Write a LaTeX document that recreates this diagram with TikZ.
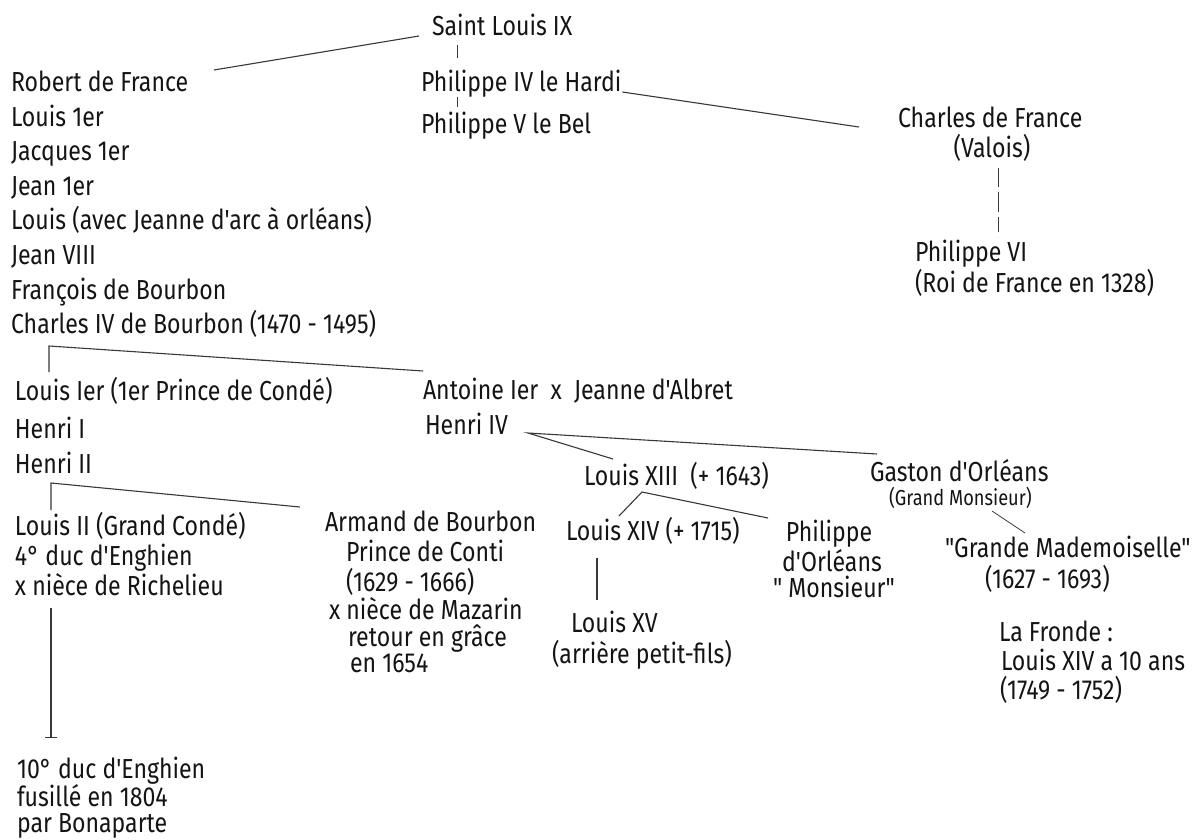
\documentclass[tikz,border=0pt]{standalone}
\usepackage{fontspec}
\newfontfamily\ff{Fira Sans}[FakeStretch=0.84]
\usetikzlibrary{arrows.meta,calc}
\begin{document}
\begin{tikzpicture}[x=1pt,y=-1pt,
  txt/.style={font=\ff\fontsize{27.5}{30}\selectfont, text=black!92, inner sep=0pt, outer sep=0pt, anchor=base west},
  txtc/.style={txt, anchor=base},
  small/.style={font=\ff\fontsize{21.7}{24}\selectfont, text=black!92, inner sep=0pt, outer sep=0pt, anchor=base west},
  link/.style={draw=black!78, line width=1.1pt},
  dashlink/.style={link, line width=0.9pt, dash pattern=on 19pt off 5pt on 20pt off 5pt on 15pt off 5pt}]
\useasboundingbox[fill=white] (0,0) rectangle (1195,839);

% top
\node[txt] (saint) at (432,35) {Saint Louis IX};
\node[txt] (ph4) at (421,91) {Philippe IV le Hardi};
\node[txt] (ph5) at (421,133) {Philippe V le Bel};
\node[txt] (charles) at (898,127) {Charles de France};
\node[txtc] (valois) at (992,157) {(Valois)};
\node[txt] (ph6) at (915,261) {Philippe VI};
\node[txt] (roi) at (915,292) {(Roi de France en 1328)};

% left list
\node[txt] (robert) at (11,91.5) {Robert de France};
\node[txt] (louis1) at (11,126.1) {Louis 1er};
\node[txt] (jacques) at (11,160.7) {Jacques 1er};
\node[txt] (jean1) at (11,195.3) {Jean 1er};
\node[txt] (louisj) at (11,229.9) {Louis (avec Jeanne d'arc à orléans)};
\node[txt] (jean8) at (11,264.5) {Jean VIII};
\node[txt] (francois) at (11,299.1) {François de Bourbon};
\node[txt] (charles4) at (11,333.7) {Charles IV de Bourbon (1470 - 1495)};

% middle
\node[txt] (louisI) at (15,400) {Louis Ier (1er Prince de Condé)};
\node[txt] (henri1) at (15,438) {Henri I};
\node[txt] (henri2) at (15,473) {Henri II};
\node[txt] (antoine) at (423,399) {Antoine Ier\ \ x\ \ Jeanne d'Albret};
\node[txt] (henri4) at (425,434) {Henri IV};
\node[txt] (louis13) at (584,485) {Louis XIII\ \ (+ 1643)};
\node[txt] (gaston) at (870,481) {Gaston d'Orléans};
\node[small] (grandm) at (889,505) {(Grand Monsieur)};

% Condé branch
\node[txt] (louis2) at (15,535) {Louis II (Grand Condé)};
\node[txt] (duc4) at (15,565) {4° duc d'Enghien};
\node[txt] (richelieu) at (15,595) {x nièce de Richelieu};
\node[txt] (duc10) at (17,778) {10° duc d'Enghien};
\node[txt] (fusille) at (17,806) {fusillé en 1804};
\node[txt] (bonaparte) at (17,832) {par Bonaparte};

% Conti
\node[txt] (armand) at (325,531) {Armand de Bourbon};
\node[txt] (conti) at (346,561) {Prince de Conti};
\node[txt] (dates1) at (346,591) {(1629 - 1666)};
\node[txt] (mazarin) at (329,619) {x nièce de Mazarin};
\node[txt] (retour) at (348,646) {retour en grâce};
\node[txt] (en1654) at (350,672) {en 1654};

% Louis XIV etc
\node[txt] (louis14) at (566,540) {Louis XIV (+ 1715)};
\node[txtc] (philippe) at (829,541) {Philippe};
\node[txtc] (dorleans) at (832,571) {d'Orléans};
\node[txtc] (monsieur) at (834,597) {" Monsieur"};
\node[txt] (louis15) at (571,632) {Louis XV};
\node[txt] (arriere) at (552,663) {(arrière petit-fils)};

% right bottom
\node[txt] (grande) at (945,557) {"Grande Mademoiselle"};
\node[txt] (dates2) at (985,588) {(1627 - 1693)};
\node[txt] (fronde) at (999,641) {La Fronde :};
\node[txt] (l14age) at (1001,670) {Louis XIV a 10 ans};
\node[txt] (dates3) at (1000,699) {(1749 - 1752)};

% connector end points
\coordinate (sl-a) at (419,36);
\coordinate (rob-a) at (214,70);
\coordinate (sl-b) at (457,45);
\coordinate (p4-a) at (457,58);
\coordinate (p4-b) at (457,97);
\coordinate (p5-a) at (457,107);
\coordinate (p4-c) at ($(ph4.base east)+(1,1)$);
\coordinate (ch-a) at (859,127);
\coordinate (ch-b) at (998,168);
\coordinate (p6-a) at (998,237);
\coordinate (c4-a) at (49,346);
\coordinate (li-a) at (49,372);
\coordinate (an-a) at (423,371);
\coordinate (h2-a) at (51,483);
\coordinate (l2-a) at (51,510);
\coordinate (ar-a) at (300,507);
\coordinate (h4-a) at (528,433);
\coordinate (l13-a) at (613,459);
\coordinate (ga-a) at (877,454);
\coordinate (l13-b) at (642,492);
\coordinate (l14-a) at (619,516);
\coordinate (ph-a) at (768,518);
\coordinate (l14-b) at (597,558);
\coordinate (l15-a) at (597,600);
\coordinate (gm-a) at (992,511);
\coordinate (gr-a) at (1025,533);
\coordinate (ri-a) at (51,608);
\coordinate (d10-a) at (51,738);

\draw[link] (sl-a) -- (rob-a);
\draw[link, line width=0.8pt] (sl-b) -- (p4-a);
\draw[link, line width=0.8pt] (p4-b) -- (p5-a);
\draw[link] (p4-c) -- (ch-a);
\draw[dashlink] (ch-b) -- (p6-a);
\draw[link] (li-a) -- (c4-a) -- (an-a);
\draw[link] (l2-a) -- (h2-a) -- (ar-a);
\draw[link] (l13-a) -- (h4-a) -- (ga-a);
\draw[link] (l14-a) -- (l13-b) -- (ph-a);
\draw[link] (l14-b) -- (l15-a);
\draw[link, line width=0.8pt] (gm-a) -- (gr-a);
\draw[link, -{Bar[width=12pt]}] (ri-a) -- (d10-a);
\end{tikzpicture}
\end{document}
